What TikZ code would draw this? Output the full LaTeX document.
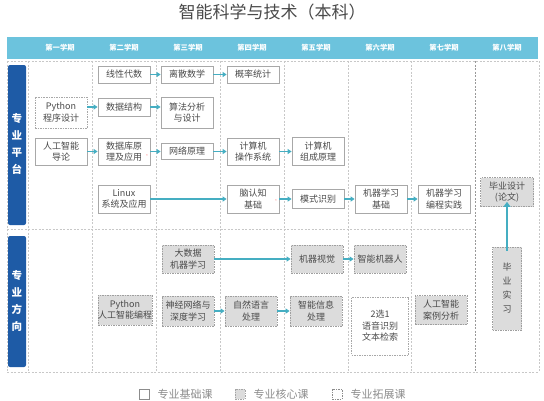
\documentclass[tikz,border=0pt]{standalone}
\usepackage{fontspec}
\setmainfont{Noto Sans CJK SC}
\usetikzlibrary{arrows.meta}
\definecolor{hdr}{HTML}{6CC3DD}
\definecolor{barc}{HTML}{1E5BA6}
\definecolor{arrowc}{HTML}{45AEC2}
\definecolor{coref}{HTML}{DCDCDC}
\definecolor{txt}{HTML}{4A4A4A}
\definecolor{brd}{HTML}{A8A8A8}
\definecolor{gridc}{HTML}{C8C8C8}
\definecolor{legc}{HTML}{8C8C8C}
\tikzset{
  course/.style={line width=0.7pt, text=txt, align=center, inner sep=0pt,
    font=\fontsize{9}{11.5}\selectfont, minimum width=52pt},
  basec/.style={course, draw=brd, fill=white},
  corec/.style={course, draw=gray!75, dash pattern=on 1.5pt off 1pt, fill=coref},
  extc/.style={course, draw=brd, dash pattern=on 1.5pt off 1pt, fill=white},
  arr/.style={draw=arrowc, line width=1.6pt, -{Triangle[length=4pt,width=5pt]}},
  gridl/.style={draw=gridc, line width=0.6pt, dash pattern=on 2pt off 1.5pt},
  gridd/.style={draw=gray!80, line width=0.6pt, dash pattern=on 2pt off 1.5pt},
  hdrtext/.style={text=white, font=\fontsize{7.3}{8}\selectfont\bfseries},
  bartext/.style={text=white, align=center, font=\fontsize{10.5}{17}\selectfont\bfseries},
  legtext/.style={text=legc, font=\fontsize{11}{12}\selectfont, anchor=west},
  tinymark/.style={text=red!40, font=\fontsize{5}{5}\selectfont, inner sep=0pt}
}
\begin{document}
\begin{tikzpicture}[x=1pt,y=-1pt]
\useasboundingbox (0,0) rectangle (544,400);
% title
\node[text=txt, font=\fontsize{17}{18}\selectfont] (title) at (272,12) {智能科学与技术（本科）};
% header band
\fill[hdr] (7,37) rectangle (538,59);
\node[hdrtext] (h1) at (60,48) {第一学期};
\node[hdrtext] (h2) at (124,48) {第二学期};
\node[hdrtext] (h3) at (188,48) {第三学期};
\node[hdrtext] (h4) at (252,48) {第四学期};
\node[hdrtext] (h5) at (316,48) {第五学期};
\node[hdrtext] (h6) at (380,48) {第六学期};
\node[hdrtext] (h7) at (444,48) {第七学期};
\node[hdrtext] (h8) at (507,48) {第八学期};
% grid
\foreach \x in {7,28,92,156,220,284,348,411,539} \draw[gridl] (\x,61) -- (\x,372);
\draw[gridd] (475,61) -- (475,372);
\draw[gridl] (7,61) -- (539,61);
\draw[gridl] (7,229) -- (475,229);
\draw[gridl] (7,372) -- (539,372);
% side bars
\fill[barc, rounded corners=2pt] (8,65) rectangle (26,225);
\node[bartext] (lab1) at (17,144) {专\\业\\平\\台};
\fill[barc, rounded corners=2pt] (8,236) rectangle (26,367);
\node[bartext] (lab2) at (17,301) {专\\业\\方\\向};
% row A
\node[basec, minimum height=17pt] (la) at (124,74.5) {线性代数};
\node[basec, minimum height=17pt] (dm) at (187,74.5) {离散数学};
\node[basec, minimum height=17pt] (ps) at (253,74.5) {概率统计};
% row B
\node[extc, minimum height=31pt] (py) at (61,112.5) {Python\\程序设计};
\node[basec, minimum height=18pt] (ds) at (124,107) {数据结构};
\node[basec, minimum height=31pt] (alg) at (187,112.5) {算法分析\\与设计};
% row C
\node[basec, minimum height=27pt] (ai) at (61,151.5) {人工智能\\导论};
\node[basec, minimum height=27pt] (db) at (124,151.5) {数据库原\\理及应用};
\node[basec, minimum height=16pt] (net) at (187,151.5) {网络原理};
\node[basec, minimum height=27pt] (os) at (253,151.5) {计算机\\操作系统};
\node[basec, minimum height=28pt] (co) at (318,151.5) {计算机\\组成原理};
% row D
\node[basec, minimum height=28pt] (lx) at (124,199) {Linux\\系统及应用};
\node[basec, minimum height=28pt] (br) at (253,199) {脑认知\\基础};
\node[basec, minimum height=19pt] (pr) at (318,199) {模式识别};
\node[basec, minimum height=28pt] (mlb) at (381,199) {机器学习\\基础};
\node[basec, minimum height=28pt] (mlp) at (444,199) {机器学习\\编程实践};
\node[corec, minimum height=29pt, minimum width=53pt] (gd) at (507,192) {毕业设计\\(论文)};
\node[tinymark] (m1) at (147,157) {*};
\node[tinymark] (m2) at (276,202) {*};
% row E
\node[corec, minimum height=28pt] (bd) at (188,259) {大数据\\机器学习};
\node[corec, minimum height=28pt] (cv) at (317,259) {机器视觉};
\node[corec, minimum height=28pt] (rb) at (380,259) {智能机器人};
% row F
\node[corec, minimum height=30pt, minimum width=53pt] (pyai) at (125,310) {Python\\人工智能编程};
\node[corec, minimum height=30pt] (nn) at (188,311) {神经网络与\\深度学习};
\node[corec, minimum height=30pt] (nlp) at (251,311) {自然语言\\处理};
\node[corec, minimum height=30pt] (iip) at (316,311) {智能信息\\处理};
\node[extc, minimum height=58pt, minimum width=57pt] (two) at (380,326) {2选1\\语音识别\\文本检索};
\node[corec, minimum height=29pt] (case) at (441,310) {人工智能\\案例分析};
\node[corec, minimum height=83pt, minimum width=29pt, font=\fontsize{9}{14}\selectfont] (intern) at (507,288.5) {毕\\业\\实\\习};
% arrows
\draw[arr] (la) -- (dm);
\draw[arr] (dm) -- (ps);
\draw[arr] (py.east |- ds) -- (ds);
\draw[arr] (ds) -- (alg.west |- ds);
\draw[arr] (ai) -- (db);
\draw[arr] (db) -- (net);
\draw[arr] (net) -- (os);
\draw[arr] (os) -- (co);
\draw[arr] (lx) -- (br);
\draw[arr] (br) -- (pr);
\draw[arr] (pr) -- (mlb);
\draw[arr] (mlb) -- (mlp);
\draw[arr] (bd) -- (cv);
\draw[arr] (cv) -- (rb);
\draw[arr] (nn) -- (nlp);
\draw[arr] (nlp) -- (iip);
\coordinate (ia) at ([yshift=-4pt]intern.north);
\draw[arr, line width=2.6pt, -{Triangle[length=5pt,width=7pt]}] (ia) -- ([yshift=5pt]gd.south);
% legend
\node[draw=legc, line width=0.7pt, minimum width=10pt, minimum height=10pt, inner sep=0pt] (k1) at (144.5,394) {};
\node[legtext] (t1) at (154,394) {专业基础课};
\node[draw=gray!70, fill=coref, dash pattern=on 1.5pt off 1pt, line width=0.7pt, minimum width=10pt, minimum height=10pt, inner sep=0pt] (k2) at (240,394) {};
\node[legtext] (t2) at (250,394) {专业核心课};
\node[draw=legc, dash pattern=on 1.5pt off 1pt, line width=0.7pt, minimum width=10pt, minimum height=10pt, inner sep=0pt] (k3) at (337,394) {};
\node[legtext] (t3) at (347,394) {专业拓展课};
\end{tikzpicture}
\end{document}
